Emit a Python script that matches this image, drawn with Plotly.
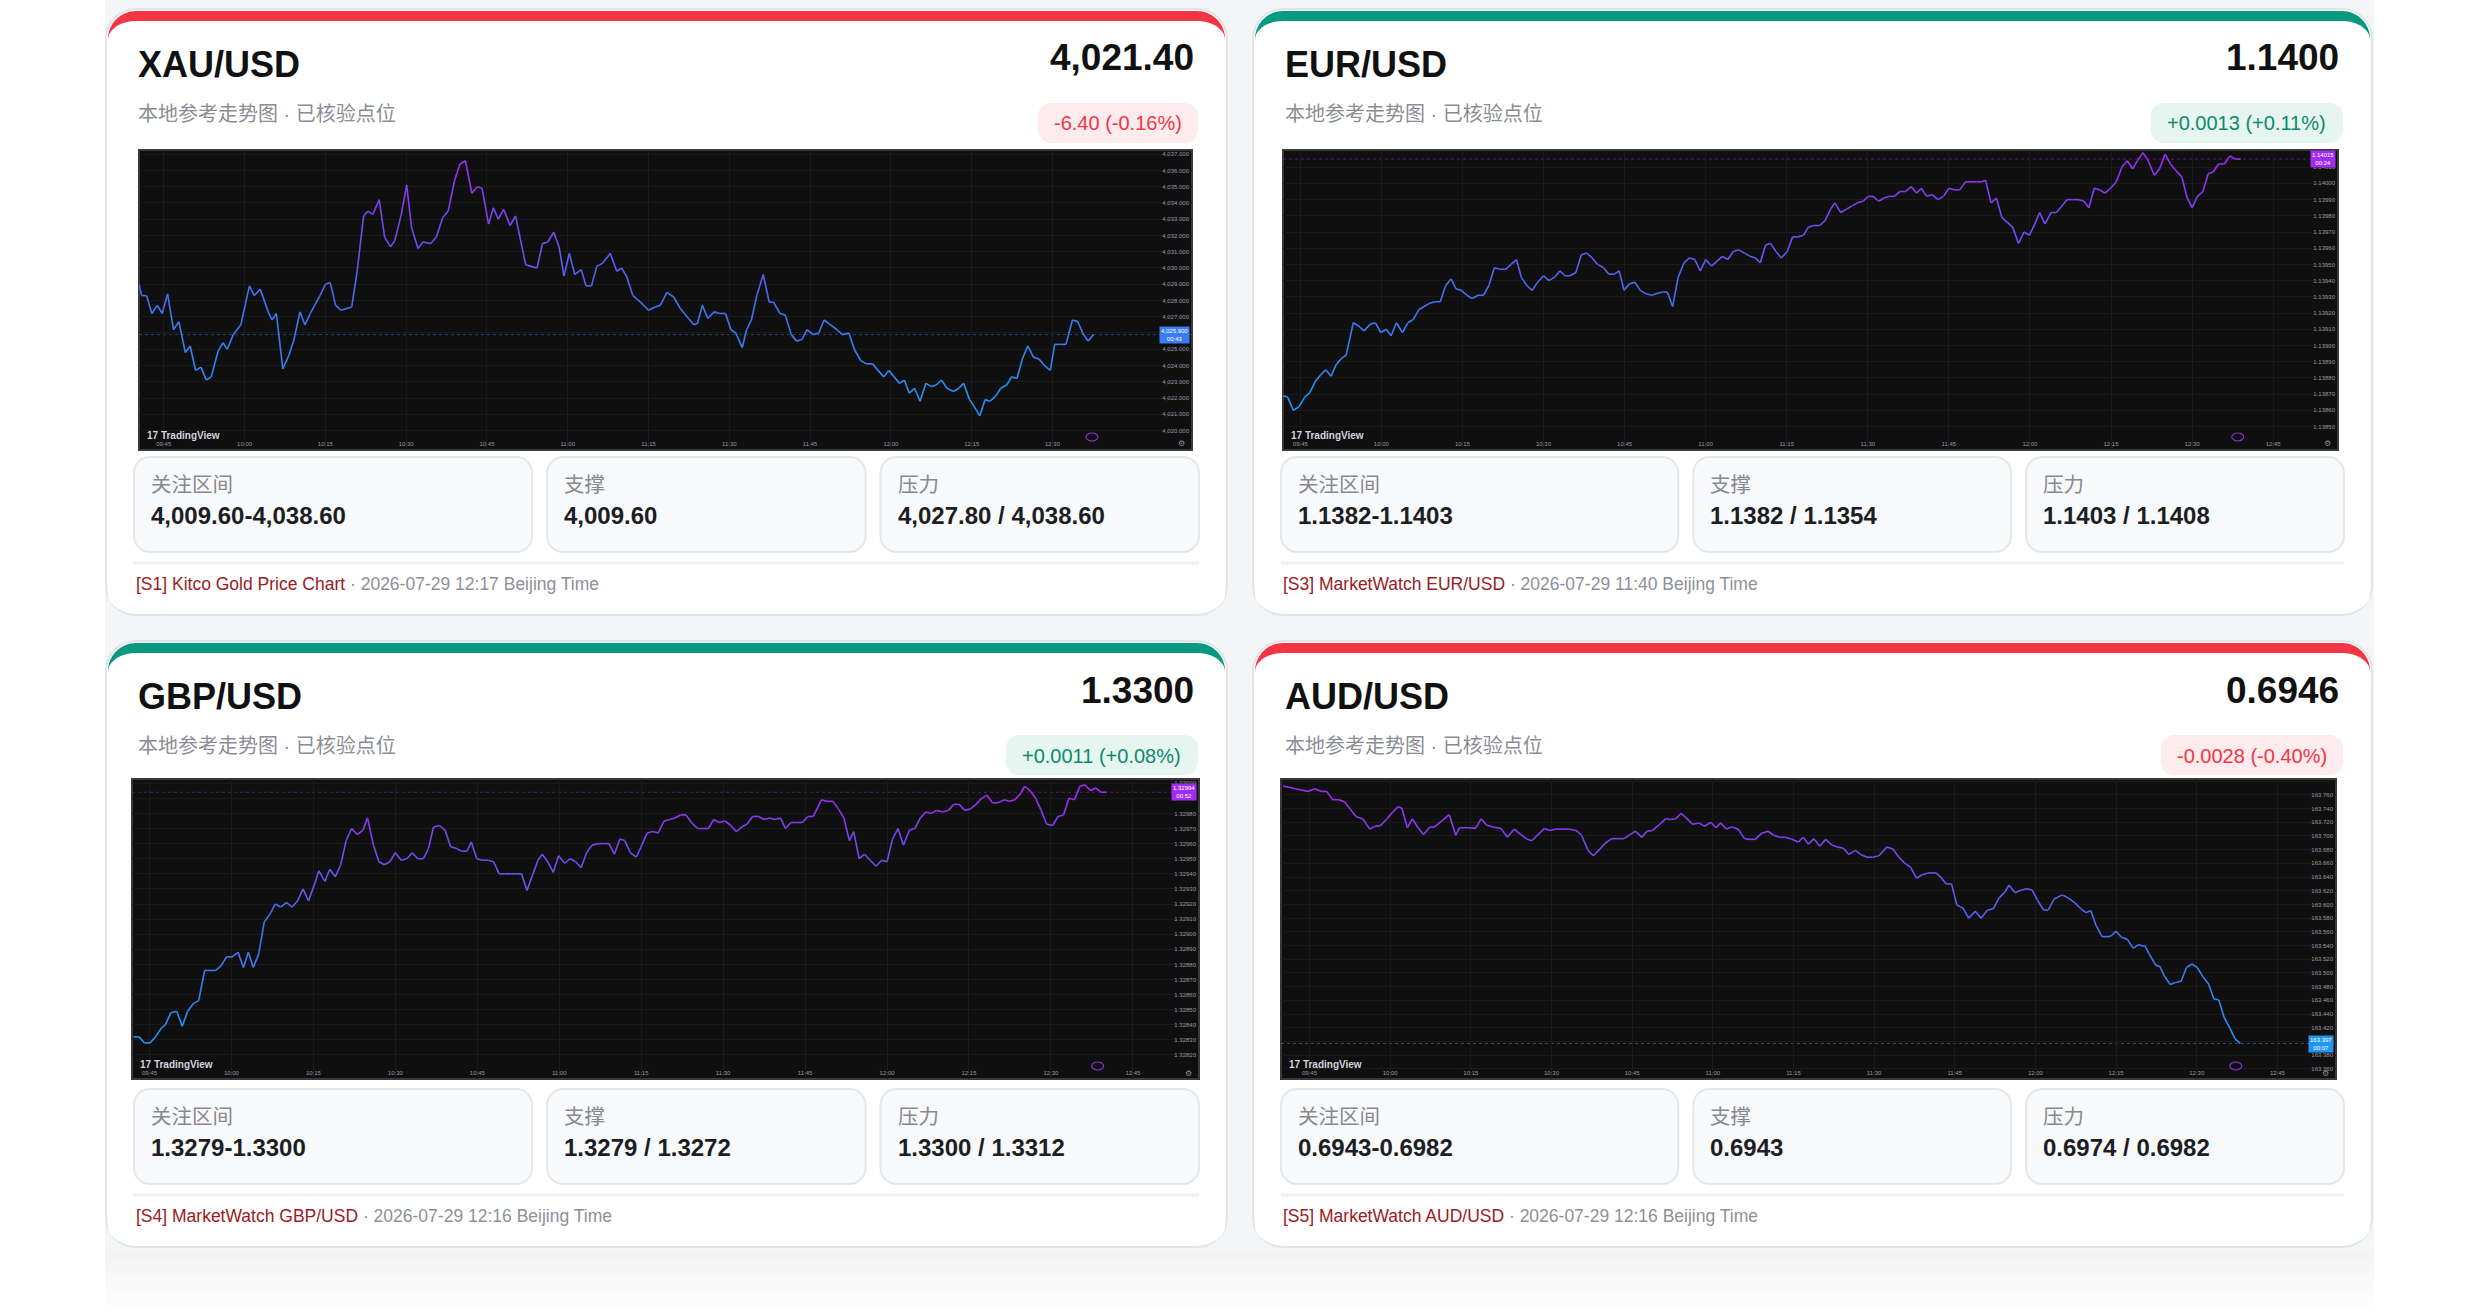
import plotly.graph_objects as go

W, H = 2480, 1312

# ---- card content -------------------------------------------------------
PAIRS = ["XAU/USD", "EUR/USD", "GBP/USD", "AUD/USD"]
LAST_PRICES = ["4,021.40", "1.1400", "1.3300", "0.6946"]
CHANGES = ["-6.40 (-0.16%)", "+0.0013 (+0.11%)", "+0.0011 (+0.08%)", "-0.0028 (-0.40%)"]
IS_UP = [False, True, True, False]
SUBTITLE = "本地参考走势图 · 已核验点位"
STAT_LABELS = ["关注区间", "支撑", "压力"]
STAT_VALUES = [
    ["4,009.60-4,038.60", "4,009.60", "4,027.80 / 4,038.60"],
    ["1.1382-1.1403", "1.1382 / 1.1354", "1.1403 / 1.1408"],
    ["1.3279-1.3300", "1.3279 / 1.3272", "1.3300 / 1.3312"],
    ["0.6943-0.6982", "0.6943", "0.6974 / 0.6982"],
]
SOURCES = ["[S1] Kitco Gold Price Chart", "[S3] MarketWatch EUR/USD",
           "[S4] MarketWatch GBP/USD", "[S5] MarketWatch AUD/USD"]
STAMPS = ["2026-07-29 12:17 Beijing Time", "2026-07-29 11:40 Beijing Time",
          "2026-07-29 12:16 Beijing Time", "2026-07-29 12:16 Beijing Time"]

# ---- intraday series (minutes after 09:45, price) -----------------------
TIME_TICKS = [0, 15, 30, 45, 60, 75, 90, 105, 120, 135, 150, 165, 180]
TIME_LABELS = ["09:45", "10:00", "10:15", "10:30", "10:45", "11:00", "11:15",
               "11:30", "11:45", "12:00", "12:15", "12:30", "12:45"]
COUNTDOWNS = ["00:43", "00:24", "00:52", "00:07"]

XAU_T = [-4.6, -4.1, -3.2, -2.2, -1.2, -0.3, 0.7, 1.8, 2.8, 4.0, 4.9, 5.9, 6.9, 7.9, 8.8,
         10.1, 11.0, 11.8, 12.9, 14.3, 15.9, 16.8, 17.9, 19.4, 20.1, 20.9, 22.1, 23.2, 24.1,
         25.3, 26.2, 27.2, 29.0, 30.0, 30.9, 31.9, 32.9, 34.9, 35.9, 37.1, 37.9, 38.8, 40.0,
         41.0, 42.1, 42.9, 44.1, 45.1, 46.0, 47.2, 48.1, 49.6, 50.6, 51.8, 52.8, 54.0, 55.0,
         56.0, 57.2, 58.2, 59.1, 60.3, 61.2, 62.1, 63.1, 64.3, 65.3, 67.2, 68.2, 69.3, 70.3,
         71.3, 72.4, 73.4, 74.3, 75.3, 76.3, 77.5, 78.4, 79.4, 80.4, 81.5, 82.9, 84.1, 85.0,
         85.9, 87.1, 88.5, 90.0, 91.2, 92.2, 93.4, 94.7, 95.9, 97.4, 98.4, 99.1, 100.0, 101.0,
         102.2, 103.2, 104.3, 105.3, 106.2, 107.4, 108.2, 109.1, 110.1, 111.3, 112.4, 113.2,
         114.4, 115.4, 116.5, 117.5, 118.5, 119.4, 120.6, 121.6, 122.6, 123.8, 125.0, 126.0,
         127.2, 128.2, 129.4, 130.4, 131.6, 132.6, 133.7, 134.6, 135.6, 136.6, 137.5, 138.4,
         139.4, 140.4, 141.5, 142.5, 143.4, 144.4, 145.4, 146.6, 147.6, 148.5, 149.6, 150.4,
         151.5, 152.5, 153.4, 154.4, 155.4, 156.5, 157.4, 158.4, 159.4, 160.4, 161.5, 162.5,
         163.5, 164.6, 165.4, 166.5, 167.5, 168.7, 169.7, 170.6, 171.6, 172.6]
XAU_P = [4029.0, 4028.3, 4028.3, 4027.2, 4027.7, 4027.2, 4028.4, 4026.2, 4026.7, 4024.8,
         4025.2, 4023.7, 4023.9, 4023.1, 4023.3, 4024.9, 4025.4, 4025.0, 4025.9, 4026.5,
         4028.9, 4028.3, 4028.7, 4027.3, 4026.8, 4027.2, 4023.8, 4024.6, 4025.5, 4027.3,
         4026.5, 4027.2, 4028.3, 4029.0, 4029.1, 4027.7, 4027.4, 4027.6, 4029.8, 4033.2,
         4033.5, 4033.3, 4034.2, 4031.9, 4031.3, 4031.7, 4033.3, 4035.1, 4032.5, 4031.2,
         4031.6, 4031.5, 4031.9, 4033.1, 4033.5, 4035.4, 4036.4, 4036.6, 4034.6, 4035.0,
         4034.9, 4032.7, 4033.7, 4033.0, 4033.6, 4032.6, 4033.2, 4030.2, 4030.1, 4030.0,
         4031.5, 4031.6, 4032.2, 4031.3, 4029.5, 4030.9, 4029.6, 4029.9, 4028.9, 4028.9,
         4030.1, 4030.3, 4030.9, 4029.8, 4030.0, 4029.5, 4028.3, 4027.9, 4027.4, 4027.6,
         4027.7, 4028.5, 4028.2, 4027.5, 4026.9, 4026.5, 4026.6, 4027.7, 4026.9, 4027.3,
         4027.2, 4027.2, 4026.2, 4026.0, 4025.1, 4026.2, 4026.8, 4028.3, 4029.6, 4027.9,
         4027.9, 4027.2, 4027.1, 4025.9, 4025.5, 4025.6, 4026.2, 4025.9, 4026.0, 4026.8,
         4026.5, 4026.2, 4025.9, 4026.0, 4025.0, 4024.3, 4024.1, 4024.1, 4023.7, 4023.3,
         4023.7, 4023.3, 4022.9, 4023.1, 4022.3, 4022.6, 4021.8, 4022.9, 4022.7, 4022.8,
         4023.1, 4022.6, 4022.4, 4022.6, 4022.9, 4021.9, 4021.5, 4020.9, 4021.9, 4021.8,
         4022.1, 4022.6, 4022.8, 4023.3, 4023.2, 4024.4, 4025.2, 4024.5, 4024.4, 4024.0,
         4023.7, 4025.3, 4025.3, 4025.3, 4026.8, 4026.7, 4026.0, 4025.5, 4025.9]

EUR_T = [-3.2, -2.3, -1.3, -0.3, 0.8, 1.8, 2.8, 3.8, 4.7, 5.7, 6.6, 7.6, 8.5, 9.8, 10.8,
         11.8, 12.9, 13.9, 14.9, 15.9, 16.8, 17.8, 18.9, 19.9, 20.9, 21.9, 22.9, 23.9, 25.0,
         25.9, 26.9, 27.9, 28.8, 29.8, 30.8, 31.8, 32.9, 33.9, 34.9, 35.9, 36.9, 38.0, 39.0,
         40.0, 40.9, 41.9, 42.9, 43.9, 45.0, 46.0, 47.0, 48.0, 49.0, 49.9, 51.0, 52.0, 53.0,
         54.0, 55.0, 56.1, 57.1, 58.1, 59.0, 59.9, 60.9, 61.9, 62.9, 63.9, 65.0, 66.0, 67.0,
         67.9, 68.9, 69.9, 71.0, 72.0, 73.0, 74.0, 75.0, 76.1, 77.1, 78.1, 79.1, 80.1, 81.1,
         82.2, 83.2, 84.2, 85.1, 86.1, 87.0, 88.0, 89.0, 90.1, 91.1, 92.1, 93.1, 94.0, 95.0,
         96.1, 97.1, 98.1, 98.9, 100.0, 101.0, 102.0, 103.1, 104.1, 105.1, 106.0, 107.0,
         108.0, 109.0, 109.9, 111.0, 112.0, 113.0, 114.0, 114.9, 115.9, 116.9, 118.0, 119.0,
         120.0, 121.0, 122.0, 123.1, 124.1, 125.1, 126.1, 126.8, 127.8, 128.8, 129.8, 130.8,
         131.8, 132.9, 133.9, 134.9, 135.9, 136.8, 137.8, 138.9, 139.9, 140.9, 141.9, 142.9,
         143.9, 145.0, 145.9, 146.9, 147.9, 148.9, 149.9, 151.0, 152.0, 153.0, 154.0, 154.9,
         155.9, 156.9, 158.0, 159.0, 160.0, 161.0, 162.0, 163.1, 164.1, 165.0, 166.0, 167.0,
         168.0, 168.9, 169.9, 171.0, 172.0, 173.0, 174.0]
EUR_P = [1.13869, 1.13868, 1.13860, 1.13862, 1.13868, 1.13871, 1.13878, 1.13882, 1.13885,
         1.13881, 1.13888, 1.13892, 1.13894, 1.13914, 1.13912, 1.13909, 1.13913, 1.13914,
         1.13908, 1.13910, 1.13906, 1.13914, 1.13908, 1.13914, 1.13916, 1.13922, 1.13924,
         1.13926, 1.13927, 1.13927, 1.13937, 1.13941, 1.13935, 1.13934, 1.13931, 1.13929,
         1.13931, 1.13931, 1.13937, 1.13948, 1.13947, 1.13947, 1.13950, 1.13953, 1.13942,
         1.13937, 1.13934, 1.13939, 1.13943, 1.13940, 1.13942, 1.13946, 1.13943, 1.13943,
         1.13945, 1.13956, 1.13957, 1.13954, 1.13950, 1.13948, 1.13944, 1.13944, 1.13946,
         1.13934, 1.13938, 1.13939, 1.13934, 1.13932, 1.13931, 1.13932, 1.13933, 1.13933,
         1.13924, 1.13942, 1.13951, 1.13954, 1.13953, 1.13946, 1.13953, 1.13949, 1.13952,
         1.13955, 1.13953, 1.13958, 1.13959, 1.13957, 1.13955, 1.13954, 1.13951, 1.13962,
         1.13963, 1.13958, 1.13954, 1.13958, 1.13967, 1.13967, 1.13968, 1.13973, 1.13974,
         1.13974, 1.13977, 1.13984, 1.13988, 1.13982, 1.13984, 1.13986, 1.13988, 1.13989,
         1.13992, 1.13992, 1.13989, 1.13991, 1.13992, 1.13992, 1.13995, 1.13995, 1.13998,
         1.13994, 1.13997, 1.13992, 1.13993, 1.13990, 1.13992, 1.13997, 1.13996, 1.13996,
         1.14001, 1.14001, 1.14001, 1.14001, 1.14002, 1.13988, 1.13991, 1.13979, 1.13976,
         1.13973, 1.13963, 1.13970, 1.13968, 1.13975, 1.13982, 1.13975, 1.13982, 1.13982,
         1.13986, 1.13990, 1.13990, 1.13990, 1.13989, 1.13985, 1.13997, 1.13996, 1.13994,
         1.13997, 1.14001, 1.14010, 1.14014, 1.14009, 1.14014, 1.14019, 1.14014, 1.14005,
         1.14009, 1.14018, 1.14012, 1.14008, 1.14004, 1.13991, 1.13985, 1.13992, 1.13995,
         1.14006, 1.14007, 1.14012, 1.14012, 1.14017, 1.14015, 1.14015]

GBP_T = [-2.9, -1.9, -0.9, 0.1, 1.1, 2.2, 2.9, 3.9, 5.0, 6.0, 7.0, 8.0, 9.0, 10.1, 11.1,
         12.1, 13.1, 14.1, 15.1, 16.2, 17.2, 18.1, 19.0, 20.0, 21.0, 22.0, 23.0, 24.0, 25.1,
         26.1, 27.1, 28.1, 29.1, 30.2, 31.0, 32.1, 33.0, 34.0, 35.0, 36.0, 37.0, 38.0, 39.1,
         39.9, 41.0, 42.0, 43.0, 44.0, 45.0, 46.1, 47.1, 48.1, 49.1, 50.1, 51.0, 52.0, 53.1,
         54.1, 55.1, 56.1, 57.1, 58.1, 58.9, 59.9, 60.9, 62.0, 63.0, 64.0, 65.0, 66.0, 67.0,
         68.1, 69.1, 70.1, 71.1, 71.9, 72.9, 73.9, 74.9, 76.0, 77.0, 78.0, 79.0, 80.0, 81.0,
         82.1, 83.1, 84.1, 85.1, 86.1, 87.0, 88.0, 89.1, 90.1, 91.1, 92.1, 93.1, 94.2, 95.2,
         96.2, 97.2, 98.2, 99.2, 100.3, 101.3, 102.3, 103.3, 104.3, 105.3, 106.4, 107.4,
         108.4, 109.4, 110.4, 111.5, 112.5, 113.5, 114.5, 115.5, 116.4, 117.4, 118.4, 119.5,
         120.5, 121.5, 123.0, 124.0, 125.1, 126.1, 127.1, 128.1, 128.9, 129.9, 130.9, 131.9,
         133.0, 134.0, 135.0, 136.0, 137.0, 138.0, 139.1, 140.1, 141.1, 142.1, 143.1, 144.1,
         145.2, 146.2, 147.2, 148.2, 149.2, 150.3, 151.3, 152.3, 153.3, 154.3, 155.3, 156.4,
         157.4, 158.4, 159.4, 160.2, 161.2, 162.2, 163.2, 164.2, 165.3, 166.3, 167.3, 168.3,
         169.3, 170.3, 171.2, 172.3, 173.2, 174.2, 175.2]
GBP_P = [1.32832, 1.32832, 1.32828, 1.32828, 1.32832, 1.32838, 1.32840, 1.32848, 1.32849,
         1.32839, 1.32849, 1.32854, 1.32856, 1.32876, 1.32876, 1.32876, 1.32879, 1.32885,
         1.32885, 1.32888, 1.32878, 1.32888, 1.32878, 1.32887, 1.32908, 1.32913, 1.32920,
         1.32918, 1.32921, 1.32918, 1.32922, 1.32930, 1.32922, 1.32933, 1.32942, 1.32935,
         1.32943, 1.32938, 1.32946, 1.32962, 1.32970, 1.32966, 1.32969, 1.32977, 1.32959,
         1.32948, 1.32946, 1.32948, 1.32954, 1.32949, 1.32950, 1.32954, 1.32950, 1.32950,
         1.32956, 1.32971, 1.32972, 1.32969, 1.32958, 1.32957, 1.32955, 1.32955, 1.32961,
         1.32950, 1.32949, 1.32949, 1.32948, 1.32940, 1.32940, 1.32940, 1.32940, 1.32940,
         1.32929, 1.32939, 1.32949, 1.32953, 1.32948, 1.32941, 1.32952, 1.32947, 1.32950,
         1.32948, 1.32944, 1.32954, 1.32959, 1.32960, 1.32960, 1.32960, 1.32953, 1.32963,
         1.32962, 1.32954, 1.32951, 1.32959, 1.32967, 1.32968, 1.32967, 1.32975, 1.32976,
         1.32977, 1.32979, 1.32979, 1.32974, 1.32970, 1.32970, 1.32970, 1.32976, 1.32974,
         1.32975, 1.32972, 1.32968, 1.32971, 1.32973, 1.32978, 1.32978, 1.32976, 1.32977,
         1.32976, 1.32977, 1.32970, 1.32974, 1.32974, 1.32974, 1.32978, 1.32978, 1.32989,
         1.32988, 1.32988, 1.32983, 1.32977, 1.32962, 1.32968, 1.32950, 1.32953, 1.32949,
         1.32945, 1.32949, 1.32948, 1.32963, 1.32970, 1.32959, 1.32969, 1.32970, 1.32977,
         1.32981, 1.32980, 1.32982, 1.32981, 1.32982, 1.32986, 1.32986, 1.32982, 1.32983,
         1.32986, 1.32990, 1.32992, 1.32987, 1.32987, 1.32989, 1.32988, 1.32989, 1.32993,
         1.32998, 1.32995, 1.32990, 1.32982, 1.32973, 1.32972, 1.32978, 1.32979, 1.32990,
         1.32989, 1.32998, 1.32999, 1.32995, 1.32997, 1.32994, 1.32994]

AUD_T = [-4.9, -3.8, -2.6, -1.5, -0.3, 1.0, 2.2, 3.2, 4.3, 5.4, 6.5, 7.6, 8.7, 9.9, 11.2,
         12.1, 13.2, 14.4, 15.4, 16.5, 17.2, 18.2, 19.1, 20.1, 21.2, 22.4, 23.2, 24.6, 26.0,
         27.2, 27.9, 29.4, 30.9, 31.9, 32.9, 34.1, 35.6, 36.8, 38.1, 39.3, 40.3, 41.3, 42.5,
         43.7, 44.7, 45.9, 47.1, 48.2, 49.6, 50.6, 51.8, 52.8, 54.0, 55.1, 56.2, 57.4, 58.5,
         59.6, 60.6, 61.8, 62.8, 63.8, 65.0, 66.2, 67.2, 68.1, 69.1, 70.1, 71.2, 72.4, 73.5,
         74.6, 75.6, 76.5, 77.5, 78.5, 79.7, 80.9, 81.9, 82.9, 84.1, 85.3, 86.3, 87.4, 88.5,
         89.7, 90.9, 91.8, 92.8, 93.8, 94.9, 96.0, 97.1, 98.1, 99.3, 100.3, 101.5, 102.5,
         103.7, 104.7, 105.9, 107.4, 108.5, 109.6, 110.6, 111.8, 112.9, 113.8, 115.0, 116.5,
         117.4, 118.4, 119.4, 120.4, 121.5, 122.6, 123.8, 124.9, 126.0, 127.2, 128.2, 129.3,
         130.1, 131.2, 132.4, 133.4, 134.4, 135.4, 136.5, 137.4, 138.5, 140.0, 141.2, 142.4,
         143.4, 144.4, 145.3, 146.3, 147.4, 148.5, 149.1, 150.0, 151.0, 152.1, 153.2, 154.1,
         155.4, 156.2, 157.4, 158.1, 159.1, 160.1, 161.0, 162.1, 163.1, 164.1, 165.1, 166.2,
         167.2, 168.2, 169.1, 170.1, 171.2, 172.1, 173.1]
AUD_P = [163.773, 163.771, 163.769, 163.767, 163.765, 163.769, 163.765, 163.765, 163.753,
         163.753, 163.750, 163.739, 163.728, 163.725, 163.710, 163.714, 163.715, 163.725,
         163.734, 163.743, 163.740, 163.712, 163.725, 163.713, 163.702, 163.713, 163.713,
         163.722, 163.731, 163.701, 163.712, 163.712, 163.711, 163.725, 163.716, 163.713,
         163.711, 163.698, 163.710, 163.702, 163.696, 163.693, 163.702, 163.711, 163.708,
         163.710, 163.710, 163.710, 163.708, 163.701, 163.679, 163.671, 163.681, 163.690,
         163.696, 163.696, 163.696, 163.702, 163.707, 163.698, 163.707, 163.708, 163.716,
         163.725, 163.724, 163.725, 163.733, 163.726, 163.717, 163.719, 163.714, 163.720,
         163.712, 163.719, 163.710, 163.713, 163.710, 163.696, 163.695, 163.695, 163.704,
         163.707, 163.701, 163.698, 163.698, 163.695, 163.691, 163.698, 163.688, 163.696,
         163.685, 163.695, 163.687, 163.684, 163.682, 163.673, 163.679, 163.673, 163.669,
         163.669, 163.671, 163.684, 163.681, 163.669, 163.661, 163.654, 163.638, 163.643,
         163.646, 163.646, 163.640, 163.630, 163.630, 163.599, 163.595, 163.580, 163.590,
         163.580, 163.591, 163.594, 163.609, 163.618, 163.628, 163.617, 163.621, 163.623,
         163.621, 163.606, 163.592, 163.592, 163.608, 163.614, 163.609, 163.602, 163.594,
         163.588, 163.591, 163.569, 163.553, 163.553, 163.554, 163.561, 163.552, 163.549,
         163.536, 163.541, 163.539, 163.527, 163.511, 163.510, 163.494, 163.483, 163.486,
         163.488, 163.508, 163.513, 163.508, 163.494, 163.484, 163.462, 163.461, 163.435,
         163.419, 163.404, 163.397]

SERIES = [(XAU_T, XAU_P), (EUR_T, EUR_P), (GBP_T, GBP_P), (AUD_T, AUD_P)]

# ---- layout (pixels in the 2480x1312 page) ------------------------------
CARD_BOXES = [(106, 9, 1227, 615), (1253, 9, 2372, 615),
              (106, 641, 1227, 1247), (1253, 641, 2372, 1247)]
CHART_BOXES = [(139, 150, 1192, 450), (1283, 150, 2338, 450),
               (132, 779, 1199, 1079), (1281, 779, 2336, 1079)]
CHART_AXES = [
    dict(xr=[-4.6, 190.9], yr=[4018.8, 4037.26], tick0=4020, dtick=1, fmt=",.3f", nlab=12),
    dict(xr=[-3.2, 192.0], yr=[1.138355, 1.140206], tick0=1.1385, dtick=0.0001, fmt=".5f", nlab=13),
    dict(xr=[-3.2, 192.1], yr=[1.328041, 1.330028], tick0=1.3282, dtick=0.0001, fmt=".5f", nlab=13),
    dict(xr=[-5.3, 190.9], yr=[163.3452, 163.7831], tick0=163.36, dtick=0.02, fmt=".3f", nlab=13),
]

RED, GREEN = "#f23645", "#089981"
LATIN = "Liberation Sans, Arial, sans-serif"
CJK = "Liberation Sans, Noto Sans CJK SC, sans-serif"
GRAD = [(0.0, (33, 150, 243)), (0.45, (70, 112, 240)), (0.75, (118, 72, 240)),
        (1.0, (165, 40, 245))]


def px(x):
    return x / W


def py(y):
    return 1 - y / H


def grad_color(f):
    for (f0, c0), (f1, c1) in zip(GRAD[:-1], GRAD[1:]):
        if f <= f1:
            u = (f - f0) / (f1 - f0)
            return "rgb(%d,%d,%d)" % tuple(round(a + (b - a) * u) for a, b in zip(c0, c1))
    return "rgb(%d,%d,%d)" % GRAD[-1][1]


def rrect(x0, y0, x1, y1, rx, ry=None):
    ry = rx if ry is None else ry
    k = 0.5523
    pts = [
        ("M", [(x0 + rx, y0)]),
        ("L", [(x1 - rx, y0)]),
        ("C", [(x1 - rx + k * rx, y0), (x1, y0 + ry - k * ry), (x1, y0 + ry)]),
        ("L", [(x1, y1 - ry)]),
        ("C", [(x1, y1 - ry + k * ry), (x1 - rx + k * rx, y1), (x1 - rx, y1)]),
        ("L", [(x0 + rx, y1)]),
        ("C", [(x0 + rx - k * rx, y1), (x0, y1 - ry + k * ry), (x0, y1 - ry)]),
        ("L", [(x0, y0 + ry)]),
        ("C", [(x0, y0 + ry - k * ry), (x0 + rx - k * rx, y0), (x0 + rx, y0)]),
    ]
    out = []
    for cmd, ps in pts:
        out.append(cmd + " " + " ".join("%.6f,%.6f" % (px(a), py(b)) for a, b in ps))
    return " ".join(out) + " Z"


def text_width(s, size):
    widths = {".": 0.278, ",": 0.278, "-": 0.333, "+": 0.584, "(": 0.333, ")": 0.333,
              "%": 0.889, " ": 0.278}
    return size * sum(widths.get(ch, 0.556) for ch in s)


def path_shape(path, fill, line_color=None, line_width=0):
    return dict(type="path", path=path, xref="paper", yref="paper", layer="below",
                fillcolor=fill, line=dict(color=line_color or fill, width=line_width))


def note(x, y, text, size, color, family=LATIN, xanchor="left", **kw):
    return dict(x=px(x), y=py(y), xref="paper", yref="paper", text=text, showarrow=False,
                xanchor=xanchor, yanchor="middle", font=dict(size=size, color=color, family=family),
                **kw)


fig = go.Figure()
shapes, annotations = [], []

# page background behind the grid of cards, fading out at the bottom
shapes.append(dict(type="rect", xref="paper", yref="paper", layer="below",
                   x0=px(105), x1=px(2374), y0=py(0), y1=py(1250),
                   fillcolor="#f4f5f7", line=dict(width=0)))
for i in range(8):
    g = round(242 + (255 - 242) * (i + 1) / 9)
    shapes.append(dict(type="rect", xref="paper", yref="paper", layer="below",
                       x0=px(105), x1=px(2374), y0=py(1250 + i * 8), y1=py(1258 + i * 8),
                       fillcolor="rgb(%d,%d,%d)" % (g, g, min(g + 1, 255)),
                       line=dict(width=0)))

for n in range(4):
    cx0, cy0, cx1, cy1 = CARD_BOXES[n]
    accent = GREEN if IS_UP[n] else RED
    cl, cr = cx0 + 28, cx1 - 28

    # card body, coloured top border, white interior
    shapes.append(path_shape(rrect(cx0, cy0, cx1, cy1, 30), "#ffffff", "#e1e4e8", 2))
    shapes.append(path_shape(rrect(cx0 + 2, cy0 + 2, cx1 - 2, cy0 + 70, 28), accent))
    shapes.append(path_shape(rrect(cx0 + 2, cy0 + 12, cx1 - 2, cy1 - 2, 28, 19), "#ffffff"))

    # header
    annotations.append(note(cl + 2, cy0 + 55.5, "<b>%s</b>" % PAIRS[n], 36, "#111111"))
    annotations.append(note(cr - 3, cy0 + 49, "<b>%s</b>" % LAST_PRICES[n], 37, "#111111",
                            xanchor="right"))
    annotations.append(note(cl + 2, cy0 + 105, SUBTITLE, 20, "#8a8d94", family=CJK))

    bw = text_width(CHANGES[n], 20) + 32
    bx1 = cr - 1
    shapes.append(path_shape(rrect(bx1 - bw, cy0 + 94, bx1, cy0 + 134, 13),
                             "#e7f5f0" if IS_UP[n] else "#fdebed"))
    annotations.append(note(bx1 - bw / 2, cy0 + 114.5, CHANGES[n], 20,
                            "#0b8a6c" if IS_UP[n] else RED, xanchor="center"))

    # stat boxes
    fr = (cr - cl - 30) / 3.25
    widths = [1.25 * fr, fr, fr]
    bx = cl
    for k in range(3):
        shapes.append(path_shape(rrect(bx, cy0 + 448, bx + widths[k], cy0 + 543, 16),
                                 "#f8f9fa", "#e5e7ea", 2))
        annotations.append(note(bx + 15, cy0 + 475, STAT_LABELS[k], 20.5, "#85888f",
                                family=CJK))
        annotations.append(note(bx + 15, cy0 + 506, "<b>%s</b>" % STAT_VALUES[n][k], 24,
                                "#1c1e23"))
        bx += widths[k] + 15

    shapes.append(dict(type="line", xref="paper", yref="paper", layer="below",
                       x0=px(cl), x1=px(cr), y0=py(cy0 + 554), y1=py(cy0 + 554),
                       line=dict(color="#eef0f2", width=3)))
    annotations.append(note(cl, cy0 + 575,
                            '<span style="color:#9a1b22">%s</span> · %s' % (SOURCES[n], STAMPS[n]),
                            17.5, "#8e9096"))

    # dark chart panel
    gx0, gy0, gx1, gy1 = CHART_BOXES[n]
    shapes.append(dict(type="rect", xref="paper", yref="paper", layer="below",
                       x0=px(gx0), x1=px(gx1), y0=py(gy1), y1=py(gy0),
                       fillcolor="#0f0f0f", line=dict(color="#3a3a3a", width=2)))

    # price line, coloured by level like the TradingView widget
    ts, ps = SERIES[n]
    ax = CHART_AXES[n]
    sx = "" if n == 0 else str(n + 1)
    lo, hi = min(ps), max(ps)
    nbins = 16
    bins = [([], []) for _ in range(nbins)]
    for i in range(len(ts) - 1):
        f = ((ps[i] + ps[i + 1]) / 2 - lo) / (hi - lo)
        b = min(int(f * nbins), nbins - 1)
        bins[b][0].extend([ts[i], ts[i + 1], None])
        bins[b][1].extend([ps[i], ps[i + 1], None])
    for b, (xs, ys) in enumerate(bins):
        if xs:
            fig.add_trace(go.Scatter(x=xs, y=ys, mode="lines", xaxis="x" + sx, yaxis="y" + sx,
                                     line=dict(color=grad_color((b + 0.5) / nbins), width=1.6),
                                     hoverinfo="skip", showlegend=False))

    last_color = grad_color((ps[-1] - lo) / (hi - lo))
    shapes.append(dict(type="line", xref="x%s domain" % sx, yref="y" + sx, x0=0, x1=1,
                       y0=ps[-1], y1=ps[-1], layer="below", opacity=0.45,
                       line=dict(color=last_color, width=1, dash="dot")))
    label = format(ps[-1], ax["fmt"])
    annotations.append(dict(xref="x%s domain" % sx, yref="y" + sx, x=0.998, y=ps[-1],
                            xanchor="right", yanchor="middle", showarrow=False,
                            text="%s<br>%s" % (label, COUNTDOWNS[n]), bgcolor=last_color,
                            borderpad=1, font=dict(size=6, color="#ffffff", family=LATIN)))
    annotations.append(dict(xref="x%s domain" % sx, yref="paper", x=0.006, y=py(gy1 - 15),
                            xanchor="left", yanchor="middle", showarrow=False,
                            text="<b>17 TradingView</b>",
                            font=dict(size=10, color="#d1d4dc", family=LATIN)))
    annotations.append(dict(xref="x%s domain" % sx, yref="paper", x=0.99, y=py(gy1 - 6),
                            xanchor="center", yanchor="middle", showarrow=False, text="⚙",
                            font=dict(size=8, color="#8a8d94", family="DejaVu Sans")))
    icon_x = gx0 + (gx1 - gx0) * 0.905
    shapes.append(dict(type="circle", xref="paper", yref="paper",
                       x0=px(icon_x - 6), x1=px(icon_x + 6), y0=py(gy1 - 9), y1=py(gy1 - 17),
                       line=dict(color="#8b2fd0", width=1.2)))

    tick_font = dict(size=6, color="#9598a1", family=LATIN)
    fig.update_layout({
        "xaxis" + sx: dict(domain=[px(gx0), px(gx1)], range=ax["xr"], anchor="y" + sx,
                           tickmode="array", tickvals=TIME_TICKS[:ax["nlab"]],
                           ticktext=TIME_LABELS[:ax["nlab"]], ticklabelposition="inside",
                           tickfont=tick_font, ticks="", showgrid=True, gridcolor="#1a1a1a",
                           zeroline=False, showline=False, fixedrange=True),
        "yaxis" + sx: dict(domain=[py(gy1), py(gy0)], range=ax["yr"], anchor="x" + sx,
                           side="right", tick0=ax["tick0"], dtick=ax["dtick"],
                           tickformat=ax["fmt"], ticklabelposition="inside", tickfont=tick_font,
                           ticks="", showgrid=True, gridcolor="#1a1a1a", zeroline=False,
                           showline=False, fixedrange=True),
    })

fig.update_layout(
    width=W, height=H, margin=dict(l=0, r=0, t=0, b=0),
    paper_bgcolor="#ffffff", plot_bgcolor="rgba(0,0,0,0)",
    shapes=shapes, annotations=annotations, showlegend=False,
)

# the page body has a default 8px margin; drop it so the figure fills the window exactly
fig.write_html("out.html", config={"displayModeBar": False},
               post_script="document.body.style.margin = '0';")
